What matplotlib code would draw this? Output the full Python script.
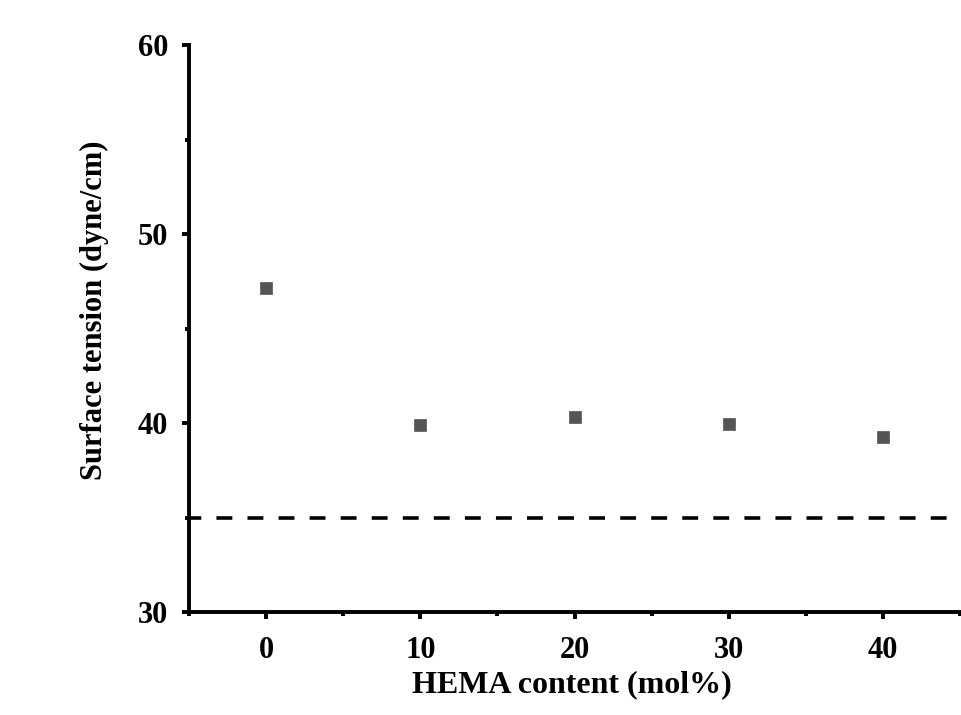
import numpy as np
import matplotlib.pyplot as plt
from matplotlib.ticker import MultipleLocator

# HEMA content vs surface tension
hema_content = [0, 10, 20, 30, 40]
surface_tension = [47.14, 39.9, 40.32, 39.93, 39.25]
reference_level = 35.0

x_ticks = [0, 10, 20, 30, 40]
y_ticks = [30, 40, 50, 60]

plt.rcParams['font.family'] = ['Liberation Serif', 'DejaVu Serif']
plt.rcParams['font.weight'] = 'bold'

fig = plt.figure(figsize=(9.61, 7.15), dpi=100)
ax = fig.add_axes([189 / 961, 103 / 715, 771 / 961, 567 / 715])

ax.scatter(hema_content, surface_tension, marker='s', s=85, color='#555555',
           edgecolors='#555555', linewidths=0.5, zorder=3, clip_on=False)
ax.axhline(reference_level, color='black', linestyle=(1, (4.4, 4.2)), linewidth=2.6)

ax.set_xlim(-5, 45)
ax.set_ylim(30, 60)
ax.set_xticks(x_ticks)
ax.set_yticks(y_ticks)
ax.xaxis.set_minor_locator(MultipleLocator(5))
ax.yaxis.set_minor_locator(MultipleLocator(5))

for side in ['top', 'right']:
    ax.spines[side].set_visible(False)
for side in ['left', 'bottom']:
    ax.spines[side].set_linewidth(2.8)

ax.tick_params(axis='x', which='major', direction='out', length=5, width=2.8,
               labelsize=22, pad=12)
ax.tick_params(axis='y', which='major', direction='out', length=5, width=2.8,
               labelsize=22, pad=10)
ax.tick_params(axis='both', which='minor', direction='out', length=3, width=2.8)

ax.set_xlabel('HEMA content (mol%)', fontsize=23, fontweight='bold', labelpad=4)
ax.set_ylabel('Surface tension (dyne/cm)', fontsize=22, fontweight='bold', labelpad=21)
ax.xaxis.label.set_x(0.496)
ax.yaxis.label.set_y(0.532)

fig.savefig('out.png', dpi=100)
